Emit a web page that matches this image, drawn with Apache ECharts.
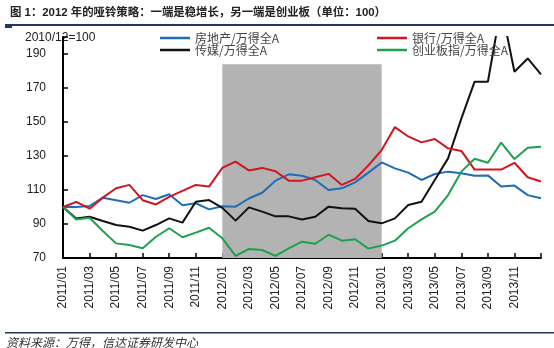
<!DOCTYPE html>
<html>
<head>
<meta charset="utf-8">
<script src="https://cdn.jsdelivr.net/npm/echarts@6/dist/echarts.min.js"></script>
<style>html,body{margin:0;padding:0;background:#fff;}#c{width:554px;height:348px;}</style>
</head>
<body>
<div id="c"></div>
<script>
const months = ['2011/01','2011/02','2011/03','2011/04','2011/05','2011/06','2011/07','2011/08','2011/09','2011/10','2011/11','2011/12',
'2012/01','2012/02','2012/03','2012/04','2012/05','2012/06','2012/07','2012/08','2012/09','2012/10','2012/11','2012/12',
'2013/01','2013/02','2013/03','2013/04','2013/05','2013/06','2013/07','2013/08','2013/09','2013/10','2013/11','2013/12','2014/01'];
const yTicks = [70, 90, 110, 130, 150, 170, 190];
const realEstate = [100,100,100.6,105.5,104,102.5,107,104.7,107.5,101,102.2,98.6,100.4,100.2,105,108.4,115.5,119.2,118.4,115.9,110,111,114.5,120.2,126.2,122.7,120.2,115.9,119.4,120.8,119.8,118.4,118.6,112,112.6,107,105.1];
const media = [100,93.3,94.3,91.8,89.4,88.4,86.1,89.4,93.3,90.8,103.1,104.1,99.5,92,99.8,97.3,94.5,94.5,92.7,94.3,100.2,99.2,99,91.8,90.4,93.3,101.2,103.1,115.9,128.6,152,173.7,173.7,218,179.6,187.4,178];
const banks = [100,103,99,105.5,111,113,104,101.5,106,109.5,113,112,123,126.7,121.5,123,121,115.5,115.5,117.5,119.5,113,116.5,124.5,133.5,147,141.5,138,140,134.5,133,122,122,122,126,117.5,115];
const chinext = [100,92.7,93.7,85.9,78.6,77.6,75.7,82.5,87.5,82.2,84.9,87.8,81.6,71.2,75.3,74.7,71.2,75.7,79.6,78.4,83.7,80.2,81,75.5,77.3,80.2,87.5,92.7,97.3,107,120.8,128.4,126,137.9,128.2,134.8,135.5];
const names = ['房地产/万得全A','传媒/万得全A','银行/万得全A','创业板指/万得全A'];
const shade = {from: '2012/01', to: '2013/01', top: 184};

const chart = echarts.init(document.getElementById('c'));
const navy = '#1f3864';
const lineSeries = (name, data, color) => ({
  name, type: 'line', data, symbol: 'none', z: 3,
  lineStyle: {color, width: 2}, itemStyle: {color}
});
chart.setOption({
  animation: false,
  grid: {left: 63, right: 13, top: 37, bottom: 90},
  title: {
    text: '图 1：2012 年的哑铃策略：一端是稳增长，另一端是创业板（单位：100）',
    left: 5, top: 2,
    textStyle: {fontSize: 11.4, fontWeight: 'bold', color: '#222', fontFamily: 'Arial, "Noto Sans CJK SC"'}
  },
  graphic: [
    {type: 'rect', shape: {x: 5, y: 24, width: 549, height: 2}, style: {fill: navy}},
    {type: 'rect', shape: {x: 5, y: 24, width: 7, height: 4}, style: {fill: navy}},
    {type: 'rect', shape: {x: 5, y: 332, width: 549, height: 1.5}, style: {fill: navy}},
    {type: 'text', left: 6, top: 336, style: {text: '资料来源：万得，信达证券研发中心', fontSize: 12, fontStyle: 'italic', fill: '#333', fontFamily: '"Noto Sans CJK SC"'}},
    {type: 'text', left: 25, top: 32, style: {text: '2010/12=100', fontSize: 12, fill: '#222', fontFamily: 'Arial, "Liberation Sans"'}}
  ],
  legend: [
    {data: [names[0], names[1]], left: 155, top: 27, orient: 'vertical', itemGap: 0, icon: 'rect', itemWidth: 30, itemHeight: 2.5,
     textStyle: {fontSize: 12, color: '#444', lineHeight: 11, fontFamily: '"Noto Sans CJK SC"'}},
    {data: [names[2], names[3]], left: 372, top: 27, orient: 'vertical', itemGap: 0, icon: 'rect', itemWidth: 30, itemHeight: 2.5,
     textStyle: {fontSize: 12, color: '#444', lineHeight: 11, fontFamily: '"Noto Sans CJK SC"'}}
  ],
  xAxis: {
    type: 'category', data: months, boundaryGap: false,
    axisLine: {lineStyle: {color: '#000', width: 2}},
    axisTick: {inside: true, length: 5, interval: 1, lineStyle: {color: '#000', width: 1.5}},
    axisLabel: {rotate: 90, interval: (i) => i % 2 === 0 && i < 36, margin: 8, fontSize: 12, color: '#222', fontFamily: 'Arial, "Liberation Sans"'},
    splitLine: {show: false}
  },
  yAxis: {
    type: 'value', min: 70, max: 200, interval: 20,
    axisLine: {show: true, lineStyle: {color: '#000', width: 2}},
    axisTick: {show: true, inside: true, length: 5, lineStyle: {color: '#000', width: 1.5}},
    axisLabel: {margin: 17, fontSize: 12, color: '#222', fontFamily: 'Arial, "Liberation Sans"',
      formatter: (v) => yTicks.includes(v) ? String(v) : ''},
    splitLine: {show: false}
  },
  series: [
    {type: 'line', data: [], z: 1, silent: true,
     markArea: {silent: true, itemStyle: {color: '#b3b3b3'},
       data: [[{xAxis: shade.from, yAxis: 70}, {xAxis: shade.to, yAxis: shade.top}]]}},
    lineSeries(names[0], realEstate, '#1f6db5'),
    lineSeries(names[1], media, '#111111'),
    lineSeries(names[2], banks, '#d0161f'),
    lineSeries(names[3], chinext, '#1fa04c')
  ]
});
</script>
</body>
</html>
